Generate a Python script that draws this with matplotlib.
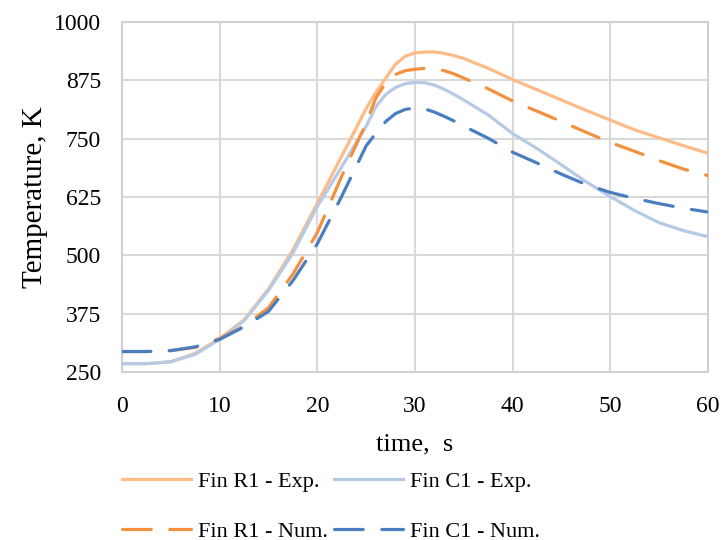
import matplotlib
matplotlib.use("Agg")
import matplotlib.pyplot as plt

plt.rcParams['font.family'] = ['Liberation Serif', 'DejaVu Serif']

time_s = [0, 2.5, 5, 7.5, 10, 12.5, 15, 17.5, 20, 22.5, 25, 26, 27, 28, 29, 30,
          31, 32, 33, 34, 35, 37.5, 40, 42.5, 45, 47.5, 50, 52.5, 55, 57.5, 60]

fin_r1_exp = [268, 268, 272, 290, 322, 362, 428, 512, 612, 713, 815, 850, 880, 910, 927, 934,
              936, 936, 933, 928, 922, 901, 877, 855, 833, 811, 790, 769, 752, 735, 719]
fin_c1_exp = [268, 268, 272, 288, 320, 360, 425, 505, 605, 690, 777, 819, 845, 860, 868, 871,
              870, 865, 856, 845, 833, 801, 761, 729, 694, 658, 626, 596, 570, 553, 540]
fin_r1_num = [294, 294, 296, 303, 322, 348, 388, 460, 549, 670, 784, 838, 870, 888, 896, 899,
              901, 900, 896, 889, 880, 857, 831, 809, 787, 764, 742, 723, 703, 685, 671]
fin_c1_num = [294, 294, 296, 304, 320, 347, 380, 446, 525, 627, 735, 762, 787, 804, 813, 816,
              814, 807, 798, 788, 777, 751, 721, 698, 674, 652, 635, 622, 611, 601, 593]

labels = ["Fin R1 - Exp.", "Fin R1 - Num.", "Fin C1 - Exp.", "Fin C1 - Num."]
x_ticks = [0, 10, 20, 30, 40, 50, 60]
y_ticks = [250, 375, 500, 625, 750, 875, 1000]

fig = plt.figure(figsize=(7.24, 5.40), dpi=100)
ax = fig.add_axes([0.1685, 0.311, 0.8095, 0.648])

lw = 2.3
ax.plot(time_s, fin_r1_exp, color='#FDBB88', lw=lw, label=labels[0], zorder=3,
        solid_joinstyle='round')
ax.plot(time_s, fin_r1_num, color='#F4913F', lw=lw, label=labels[1], zorder=4,
        dashes=(9, 5.8), dash_capstyle='round', dash_joinstyle='round')
ax.plot(time_s, fin_c1_exp, color='#B6C9E5', lw=lw, label=labels[2], zorder=3,
        solid_joinstyle='round')
ax.plot(time_s, fin_c1_num, color='#4A7EC0', lw=lw, label=labels[3], zorder=4,
        dashes=(9, 5.8), dash_capstyle='round', dash_joinstyle='round')

ax.set_xlim(0, 60)
ax.set_ylim(250, 1000)
ax.set_xticks(x_ticks)
ax.set_yticks(y_ticks)
ax.grid(True, color='#D9D9D9', lw=1.5)
ax.set_axisbelow(True)
for s in ax.spines.values():
    s.set_color('#D0D0D0')
    s.set_linewidth(1.5)
ax.tick_params(length=0, labelsize=17)
ax.tick_params(axis='x', pad=17)
ax.tick_params(axis='y', pad=15)
ax.set_xlabel("time,  s", fontsize=19, labelpad=12)
ax.set_ylabel("Temperature, K", fontsize=21, labelpad=4)

fig.legend(loc='center', bbox_to_anchor=(0.457, 0.062), ncol=2, frameon=False,
           fontsize=16, handlelength=3.1, handletextpad=0.3, columnspacing=0.3,
           labelspacing=1.3)

fig.savefig("out.png", dpi=100)
